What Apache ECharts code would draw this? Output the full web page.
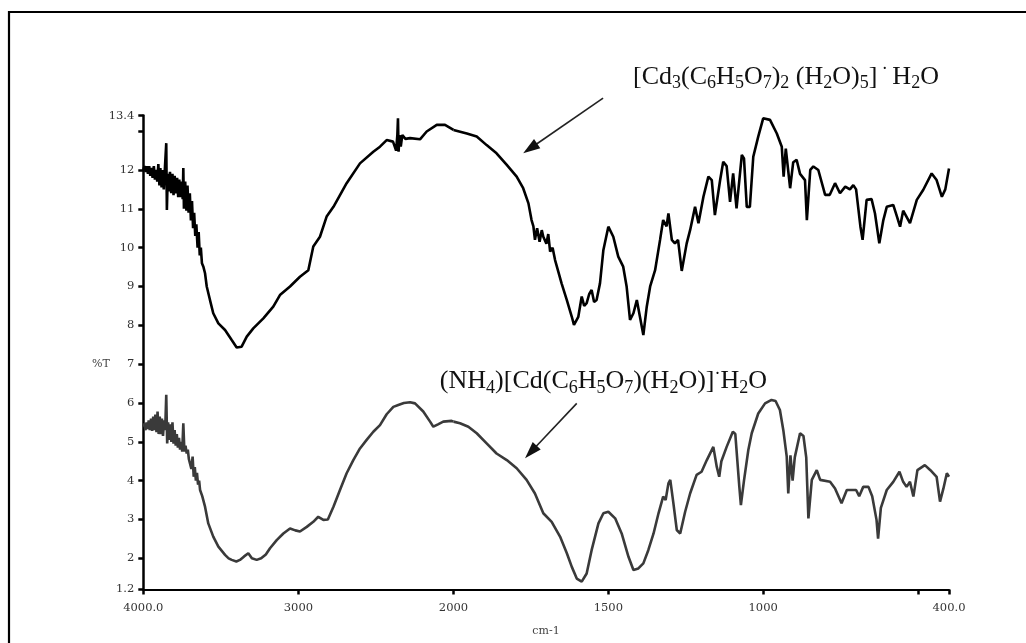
<!DOCTYPE html>
<html><head><meta charset="utf-8">
<script src="https://cdn.jsdelivr.net/npm/echarts@6/dist/echarts.min.js"></script>
<style>html,body{margin:0;padding:0;background:#fff}#c{width:1026px;height:643px}</style>
</head><body><div id="c"></div>
<script>
// ---------- DATA (wavenumber cm-1, %T) ----------
const topWn = [4000,3992,3985,3978,3970,3962,3955,3948,3940,3932,3925,3918,3910,3903,3896,3890,3882,3875,3868,3860,3852,3848,3842,3835,3828,3820,3812,3805,3798,3790,3782,3775,3768,3760,3752,3746,3742,3738,3730,3722,3715,3708,3700,3693,3686,3679,3672,3665,3658,3650,3643,3636,3629,3622,3612,3602,3591,3570,3549,3516,3473,3430,3398,3366,3333,3291,3226,3162,3119,3054,2990,2936,2904,2861,2818,2774,2689,2603,2517,2474,2431,2390,2370,2362,2358,2354,2348,2340,2330,2310,2280,2216,2173,2108,2055,2000,1957,1925,1893,1861,1828,1796,1775,1758,1748,1742,1737,1730,1722,1715,1710,1700,1694,1688,1680,1672,1651,1634,1618,1611,1597,1586,1578,1570,1562,1554,1546,1538,1527,1516,1500,1484,1468,1452,1441,1430,1419,1408,1398,1387,1376,1365,1349,1333,1323,1312,1306,1295,1285,1275,1263,1247,1236,1220,1209,1193,1177,1166,1156,1139,1129,1118,1107,1097,1086,1069,1062,1053,1043,1032,1016,1000,978,956,940,934,927,913,903,892,881,865,859,848,838,822,800,785,768,752,735,720,709,700,686,679,666,650,639,625,612,601,580,570,558,548,526,504,483,456,440,423,412,400];
const topT = [12.0,12.1,11.95,12.1,11.9,12.1,11.85,12.05,11.8,12.1,11.75,12.0,11.7,12.15,11.6,12.05,11.55,12.0,11.5,12.1,12.69,10.97,11.9,11.45,11.95,11.4,11.9,11.35,11.85,11.4,11.8,11.3,11.75,11.3,11.7,11.25,12.05,11.0,11.7,10.95,11.6,10.9,11.4,10.7,11.2,10.5,10.9,10.3,10.6,10.0,10.4,9.8,10.0,9.6,9.5,9.34,9.0,8.65,8.31,8.05,7.88,7.62,7.43,7.45,7.71,7.92,8.18,8.48,8.78,9.0,9.25,9.42,10.03,10.28,10.8,11.05,11.66,12.17,12.47,12.6,12.77,12.73,12.5,12.9,13.33,12.47,12.9,12.6,12.9,12.8,12.82,12.79,12.99,13.16,13.16,13.03,12.94,12.86,12.64,12.43,12.13,11.83,11.53,11.14,10.71,10.55,10.2,10.5,10.15,10.45,10.28,10.1,10.35,9.9,10.0,9.68,9.08,8.65,8.22,8.01,8.22,8.74,8.5,8.57,8.8,8.91,8.6,8.65,9.08,9.94,10.54,10.28,9.77,9.51,9.0,8.14,8.31,8.65,8.22,7.75,8.48,9.0,9.42,10.2,10.71,10.55,10.88,10.2,10.11,10.2,9.4,10.11,10.45,11.05,10.63,11.31,11.83,11.74,10.84,11.74,12.21,12.1,11.18,11.91,11.01,12.39,12.3,11.05,11.05,12.34,12.86,13.33,13.29,12.94,12.6,11.83,12.55,11.53,12.2,12.26,11.9,11.74,10.71,12.0,12.09,12.0,11.36,11.36,11.66,11.4,11.57,11.5,11.61,11.5,10.54,10.2,11.23,11.25,10.88,10.11,10.71,11.05,11.1,10.85,10.54,10.95,10.63,11.23,11.49,11.91,11.74,11.31,11.5,12.04];

const botWn = [4000,3993,3986,3979,3972,3965,3958,3950,3943,3936,3929,3922,3915,3908,3901,3894,3887,3880,3873,3866,3859,3852,3846,3840,3833,3826,3819,3812,3805,3798,3791,3784,3777,3770,3763,3756,3749,3742,3735,3728,3720,3713,3706,3699,3690,3682,3675,3668,3661,3654,3647,3640,3634,3620,3602,3581,3549,3516,3473,3450,3430,3400,3377,3350,3323,3300,3269,3240,3210,3183,3140,3097,3054,3020,2990,2946,2904,2872,2839,2810,2774,2732,2689,2646,2603,2560,2517,2474,2431,2388,2356,2320,2280,2248,2195,2151,2130,2100,2066,2012,2000,1979,1952,1925,1893,1861,1828,1796,1764,1737,1710,1683,1656,1634,1618,1602,1586,1570,1554,1532,1516,1500,1478,1457,1435,1419,1403,1387,1371,1354,1338,1323,1315,1306,1300,1290,1279,1268,1252,1236,1215,1199,1182,1161,1150,1142,1135,1118,1098,1090,1077,1072,1062,1048,1037,1016,994,973,960,946,935,924,919,912,905,898,881,870,861,854,843,827,816,784,768,747,730,700,690,677,660,648,634,629,620,601,580,560,548,537,526,515,502,478,460,440,429,418,407,400];
const botT = [5.39,5.47,5.3,5.5,5.33,5.55,5.3,5.6,5.28,5.65,5.3,5.7,5.25,5.78,5.2,5.65,5.2,5.6,5.15,5.55,5.3,6.21,4.96,5.5,5.05,5.45,5.0,5.5,4.95,5.3,4.9,5.2,4.85,5.1,4.8,5.0,4.75,5.48,4.75,4.9,4.7,4.8,4.55,4.6,4.3,4.62,4.1,4.35,4.0,4.2,3.9,4.0,3.76,3.6,3.33,2.9,2.56,2.3,2.09,2.0,1.96,1.92,1.96,2.05,2.13,2.0,1.96,2.0,2.1,2.26,2.47,2.64,2.77,2.72,2.69,2.81,2.94,3.07,2.99,3.0,3.33,3.76,4.19,4.53,4.83,5.05,5.26,5.43,5.71,5.9,5.95,6.0,6.02,5.99,5.78,5.52,5.39,5.45,5.52,5.54,5.52,5.48,5.39,5.22,4.96,4.7,4.53,4.32,4.02,3.67,3.16,2.94,2.56,2.13,1.78,1.48,1.4,1.61,2.21,2.9,3.16,3.2,3.03,2.64,2.04,1.7,1.74,1.87,2.21,2.64,3.16,3.59,3.5,3.93,4.02,3.42,2.73,2.64,3.2,3.67,4.15,4.23,4.53,4.87,4.36,4.1,4.5,4.87,5.26,5.2,3.84,3.37,4.0,4.79,5.22,5.73,5.99,6.08,6.05,5.82,5.3,4.62,3.67,4.65,4.0,4.6,5.22,5.15,4.6,3.03,4.02,4.27,4.02,3.97,3.8,3.42,3.76,3.76,3.6,3.84,3.84,3.6,2.99,2.51,3.3,3.76,3.97,4.23,3.97,3.84,3.97,3.59,4.27,4.4,4.27,4.1,3.46,3.8,4.19,4.1];

const xTicksHigh = [4000, 3000];
const xLabelsHigh = [4000, 3000];
const xTicksLow = [2000, 1500, 1000, 500, 400];
const xLabelsLow = [2000, 1500, 1000, 400];
const yTicks = [1.2, 2, 3, 4, 5, 6, 7, 8, 9, 10, 11, 12, 13, 13.4];
const yLabels = [1.2, 2, 3, 4, 5, 6, 7, 8, 9, 10, 11, 12, 13.4];
const yRange = [1.2, 13.4];
const xBreak = 2000;

// annotation anchors in (cm-1, %T) of the low-wavenumber axis
const label1At = [1420, 14.40];
const label2At = [2044, 6.57];
const arrow1 = [[1517, 13.85], [1775, 12.43]];
const arrow2 = [[1602, 5.99], [1769, 4.58]];

// ---------- CHART ----------
const chart = echarts.init(document.getElementById('c'), null, {renderer: 'canvas'});
const zip = (w, t, keep) => w.map((x, i) => [x, t[i]]).filter(p => keep(p[0]));
const hi = x => x >= xBreak, lo = x => x <= xBreak;
const lblFont = 'DejaVu Serif';
const fmtX = v => (v === 4000 || v === 400) ? v.toFixed(1) : String(v);

const axisCommon = {
  type: 'value', inverse: true,
  axisLine: {show: true, onZero: false, lineStyle: {color: '#000', width: 2}},
  splitLine: {show: false},
  axisTick: {show: true, inside: false, length: 5, lineStyle: {color: '#000', width: 2.5}},
  axisLabel: {show: true, margin: 13, fontFamily: lblFont, fontSize: 11.5, color: '#333', formatter: fmtX}
};
const yCommon = {
  type: 'value', min: yRange[0], max: yRange[1],
  splitLine: {show: false}
};

chart.setOption({
  animation: false,
  backgroundColor: '#fff',
  grid: [
    {left: 143.3, top: 115.6, width: 310.2, height: 473.8},
    {left: 453.5, top: 115.6, width: 495.5, height: 473.8}
  ],
  xAxis: [
    Object.assign({}, axisCommon, {gridIndex: 0, min: xBreak, max: 4000,
      axisTick: Object.assign({}, axisCommon.axisTick, {customValues: xTicksHigh}),
      axisLabel: Object.assign({}, axisCommon.axisLabel, {customValues: xLabelsHigh})}),
    Object.assign({}, axisCommon, {gridIndex: 1, min: 400, max: xBreak,
      axisTick: Object.assign({}, axisCommon.axisTick, {customValues: xTicksLow}),
      axisLabel: Object.assign({}, axisCommon.axisLabel, {customValues: xLabelsLow})})
  ],
  yAxis: [
    Object.assign({}, yCommon, {gridIndex: 0,
      axisLine: {show: true, onZero: false, lineStyle: {color: '#000', width: 2.5}},
      axisTick: {show: true, inside: false, length: 5, customValues: yTicks, lineStyle: {color: '#000', width: 2.5}},
      axisLabel: {show: true, margin: 9, customValues: yLabels, fontFamily: lblFont, fontSize: 11.5, color: '#333',
        formatter: v => String(v)}}),
    Object.assign({}, yCommon, {gridIndex: 1, show: false})
  ],
  series: [
    {type: 'line', xAxisIndex: 0, yAxisIndex: 0, data: zip(topWn, topT, hi), showSymbol: false, symbol: 'none',
      lineStyle: {color: '#000', width: 2.6}, z: 3},
    {type: 'line', xAxisIndex: 1, yAxisIndex: 1, data: zip(topWn, topT, lo), showSymbol: false, symbol: 'none',
      lineStyle: {color: '#000', width: 2.6}, z: 3},
    {type: 'line', xAxisIndex: 0, yAxisIndex: 0, data: zip(botWn, botT, hi), showSymbol: false, symbol: 'none',
      lineStyle: {color: '#3a3a3a', width: 2.6}, z: 2},
    {type: 'line', xAxisIndex: 1, yAxisIndex: 1, data: zip(botWn, botT, lo), showSymbol: false, symbol: 'none',
      lineStyle: {color: '#3a3a3a', width: 2.6}, z: 2}
  ]
});

// ---------- ANNOTATIONS ----------
const px = p => chart.convertToPixel({xAxisIndex: 1, yAxisIndex: 1}, p);
function arrowEls(a) {
  const s = px(a[0]), t = px(a[1]);
  const dx = t[0] - s[0], dy = t[1] - s[1], len = Math.hypot(dx, dy);
  const ux = dx / len, uy = dy / len, L = 17, W = 11;
  const bx = t[0] - ux * L, by = t[1] - uy * L;
  return [
    {type: 'line', shape: {x1: s[0], y1: s[1], x2: bx + ux * 2, y2: by + uy * 2}, style: {stroke: '#222', lineWidth: 1.6}},
    {type: 'polygon', shape: {points: [t, [bx - uy * W / 2, by + ux * W / 2], [bx + uy * W / 2, by - ux * W / 2]]},
      style: {fill: '#111'}}
  ];
}
const F = 'Liberation Serif';
const rich = {
  n: {fontFamily: F, fontSize: 26, lineHeight: 32, fill: '#111'},
  s: {fontFamily: F, fontSize: 18, lineHeight: 16, verticalAlign: 'bottom', fill: '#111'},
  u: {fontFamily: F, fontSize: 18, lineHeight: 18, verticalAlign: 'top', fill: '#111'}
};
const formula1 = '{n|[Cd}{s|3}{n|(C}{s|6}{n|H}{s|5}{n|O}{s|7}{n|)}{s|2}{n| (H}{s|2}{n|O)}{s|5}{n|]}{u| · }{n|H}{s|2}{n|O}';
const formula2 = '{n|(NH}{s|4}{n|)[Cd(C}{s|6}{n|H}{s|5}{n|O}{s|7}{n|)(H}{s|2}{n|O)]}{u|·}{n|H}{s|2}{n|O}';
const p1 = px(label1At), p2 = px(label2At);

const W = chart.getWidth(), H = chart.getHeight();
chart.setOption({
  graphic: [
    {type: 'polyline', shape: {points: [[9, H + 5], [9, 12], [W + 5, 12]]}, style: {stroke: '#000', lineWidth: 2.2, fill: null}},
    {type: 'text', x: p1[0], y: p1[1], style: {text: formula1, rich: rich, align: 'left', verticalAlign: 'middle'}},
    {type: 'text', x: p2[0], y: p2[1], style: {text: formula2, rich: rich, align: 'left', verticalAlign: 'middle'}},
    {type: 'text', x: 101, y: 364, style: {text: '%T', fontFamily: lblFont, fontSize: 11, fill: '#444', align: 'center', verticalAlign: 'middle'}},
    {type: 'text', x: 546, y: 631, style: {text: 'cm-1', fontFamily: lblFont, fontSize: 11, fill: '#444', align: 'center', verticalAlign: 'middle'}}
  ].concat(arrowEls(arrow1), arrowEls(arrow2))
});
</script>
</body></html>
